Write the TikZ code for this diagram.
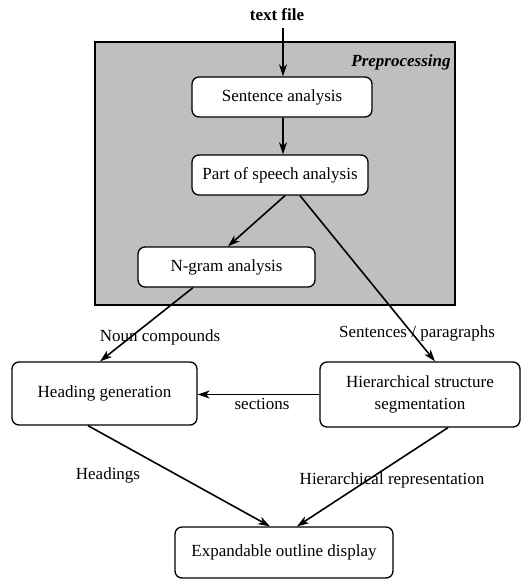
\documentclass[tikz,border=0pt]{standalone}
\usepackage{fontspec}
\setmainfont{Liberation Serif}
\usetikzlibrary{arrows.meta}
\begin{document}
\begin{tikzpicture}[x=1pt,y=-1pt,
  font=\fontsize{17}{20}\selectfont,
  procbox/.style={draw=black, line width=1.3pt, fill=white, rounded corners=7pt, inner sep=0pt, align=center},
  arr/.style={line width=1.6pt, -{Stealth[length=12pt,width=8pt,inset=3.5pt]}},
  lbl/.style={inner sep=0pt}]
\useasboundingbox (0,0) rectangle (527,581);
% preprocessing region
\path[draw=black, line width=1.1pt, fill=black!25] (95,42) rectangle (455,305);
\node[lbl, font=\fontsize{17}{20}\selectfont\bfseries\itshape] (pre) at (401,62) {Preprocessing};
\node[lbl, font=\fontsize{17}{20}\selectfont\bfseries] (tf) at (277,15) {text file};
% boxes
\node[procbox, minimum width=180pt, minimum height=40pt] (sent) at (282,97) {Sentence analysis};
\node[procbox, minimum width=176pt, minimum height=40pt] (pos) at (280,175) {Part of speech analysis};
\node[procbox, minimum width=177pt, minimum height=40pt] (ngram) at (226.5,267) {N-gram analysis};
\node[procbox, minimum width=185pt, minimum height=63pt] (head) at (104.5,393.5) {Heading generation};
\node[procbox, minimum width=200pt, minimum height=65pt] (hier) at (420,394.5) {Hierarchical structure\\[2pt]segmentation};
\node[procbox, minimum width=218pt, minimum height=51pt] (exp) at (284,552.5) {Expandable outline display};
% connectors
\coordinate (tfo) at (283,28);
\draw[arr] (tfo) -- (tfo |- sent.north);
\draw[arr] ([xshift=1pt]sent.south) -- ([xshift=1pt]sent.south |- pos.north);
\draw[arr] ([xshift=5pt]pos.south) -- ([xshift=1.5pt]ngram.north);
\draw[arr] ([xshift=20pt]pos.south) -- ([xshift=15pt]hier.north);
\draw[arr] ([xshift=-33.5pt]ngram.south) -- ([xshift=-4.5pt]head.north);
\draw[arr] (hier.west) -- (hier.west -| head.east);
\draw[arr] ([xshift=-16.5pt]head.south) -- ([xshift=-14pt]exp.north);
\draw[arr] ([xshift=28pt]hier.south) -- ([xshift=13pt]exp.north);
% labels
\node[lbl] (lnc) at (160,337) {Noun compounds};
\node[lbl] (lsp) at (417,333) {Sentences / paragraphs};
\node[lbl] (lsec) at (262,404) {sections};
\node[lbl] (lhd) at (108,475) {Headings};
\node[lbl] (lhr) at (392,480) {Hierarchical representation};
\end{tikzpicture}
\end{document}
